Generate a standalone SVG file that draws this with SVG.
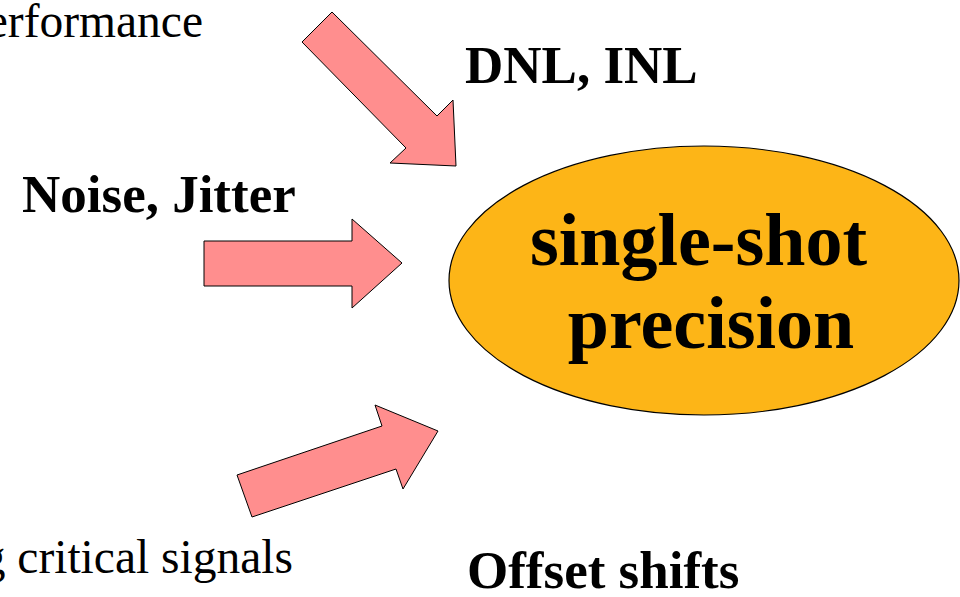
<svg xmlns="http://www.w3.org/2000/svg" width="960" height="597" viewBox="0 0 960 597">
  <style>
    .arrow { fill: #FF8E8E; stroke: #000; stroke-width: 1; stroke-linejoin: miter; }
    .hub { fill: #FDB517; stroke: #000; stroke-width: 1.2; }
    text { font-family: "Liberation Serif", "Times New Roman", "DejaVu Serif", serif; fill: #000; }
    .plain { font-size: 47.5px; font-weight: normal; font-style: normal; }
    .bold { font-size: 53px; font-weight: bold; }
    .big { font-size: 74px; font-weight: bold; text-anchor: middle; }
  </style>
  <rect width="960" height="597" fill="#fff"/>

  <!-- connectors: block arrows pointing at the central ellipse -->
  <g id="connectors">
    <polygon class="arrow" points="302,42 332,12 437,116 453,100 456,166 390,163 406,148"/>
    <polygon class="arrow" points="204,241 352,241 352,219 402,263 352,308 352,286 204,286"/>
    <polygon class="arrow" points="237,475 382,426 375,405 438,431 403,489 396,469 252,517"/>
  </g>

  <g id="node-precision">
    <ellipse class="hub" cx="704" cy="280.5" rx="255" ry="134.5"/>
    <text class="big" x="698.5" y="265">single-shot</text>
    <text class="big" x="711" y="348">precision</text>
  </g>

  <g id="node-performance">
    <text class="plain" x="203" y="37" text-anchor="end">erformance</text>
  </g>

  <g id="node-dnl">
    <text class="bold" x="465" y="83">DNL, INL</text>
  </g>

  <g id="node-noise">
    <text class="bold" x="22" y="212">Noise, Jitter</text>
  </g>

  <g id="node-signals">
    <text class="plain" x="293" y="573" text-anchor="end">g critical signals</text>
  </g>

  <g id="node-offset">
    <text class="bold" x="467" y="588">Offset shifts</text>
  </g>
</svg>
